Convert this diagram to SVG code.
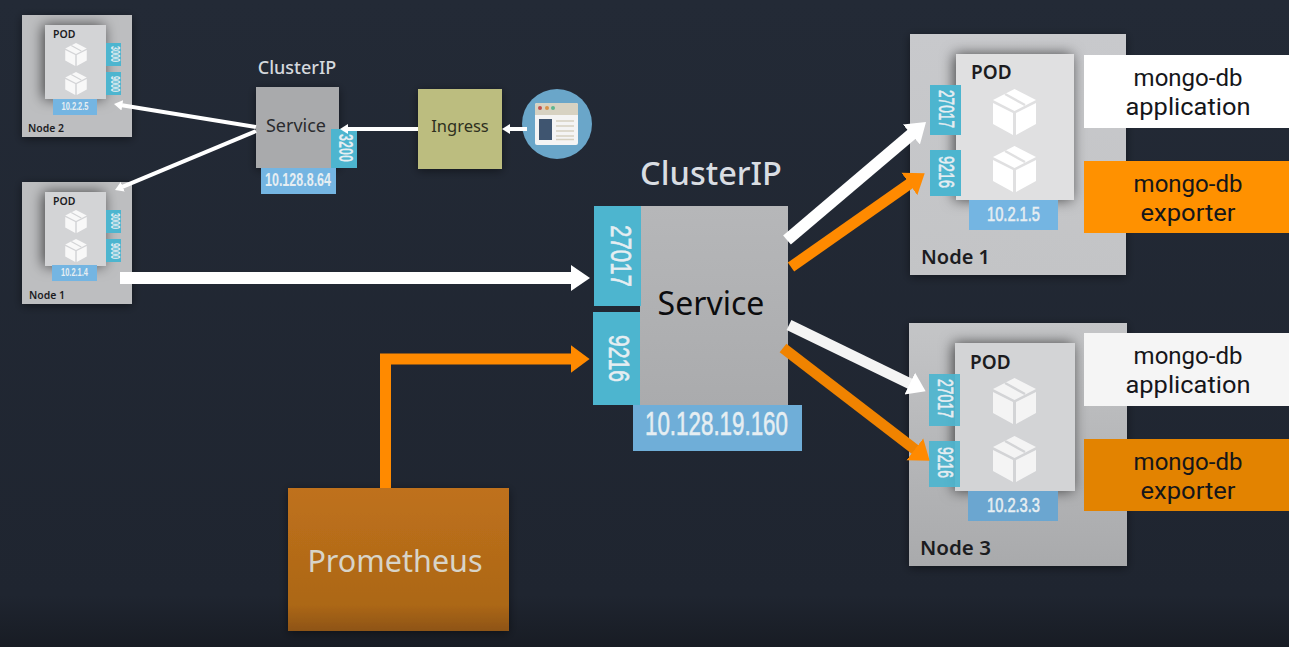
<svg xmlns="http://www.w3.org/2000/svg" width="1289" height="647" viewBox="0 0 1289 647">
<style>
text{font-family:"Noto Sans","Open Sans","Liberation Sans",sans-serif}
.num{font-family:"Liberation Sans",Arial,sans-serif;fill:#e6eef2;font-weight:700}
.big{font-weight:400;stroke:#e6eef2;stroke-width:.6px}
.port{fill:#4db5cf}
.ip{fill:#74b5e2}
.pod{fill:#d3d4d6}
.podb{fill:#e0e0e1}
.n{fill:#bdbec0}
.lab{font-weight:600;fill:#1c1c1f}
.c{text-anchor:middle}
.m{text-anchor:middle;font-size:24px;fill:#15161a;font-family:Roboto,"Liberation Sans",sans-serif}
.wire{fill:none;stroke:#fff}
</style>
<defs>
<linearGradient id="bg" x1="0" y1="0" x2="0" y2="1"><stop offset="0" stop-color="#232a36"/><stop offset=".92" stop-color="#1f2530"/><stop offset="1" stop-color="#181c24"/></linearGradient>
<linearGradient id="nb" x1="0" y1="0" x2="0" y2="1"><stop offset="0" stop-color="#c8c9cc"/><stop offset="1" stop-color="#c3c4c6"/></linearGradient>
<linearGradient id="nd" x1="0" y1="0" x2="0" y2="1"><stop offset="0" stop-color="#c4c5c7"/><stop offset="1" stop-color="#a9aaac"/></linearGradient>
<linearGradient id="pr" x1="0" y1="0" x2="0" y2="1"><stop offset="0" stop-color="#bf711c"/><stop offset=".82" stop-color="#ac6716"/><stop offset="1" stop-color="#8e5412"/></linearGradient>
<linearGradient id="sv" x1="0" y1="0" x2="0" y2="1"><stop offset="0" stop-color="#b6b7b9"/><stop offset="1" stop-color="#aaabad"/></linearGradient>
<filter id="sh" x="-30%" y="-30%" width="160%" height="160%"><feDropShadow dx="-2" dy="0" stdDeviation="7" flood-color="#000" flood-opacity=".65"/></filter>
<filter id="sh2" x="-20%" y="-20%" width="140%" height="140%"><feDropShadow dx="0" dy="2" stdDeviation="5" flood-color="#000" flood-opacity=".45"/></filter>
<marker id="hw" viewBox="-0.1 -1.2 1.7 2.4" markerWidth="1.7" markerHeight="2.4" refX="0" refY="0" orient="auto"><path d="M-.1-1.1L1.5 0L-.1 1.1Z" fill="#fff"/></marker>
<marker id="ho" viewBox="-0.1 -1.3 1.8 2.6" markerWidth="1.8" markerHeight="2.6" refX="0" refY="0" orient="auto"><path d="M-.1-1.25L1.6 0L-.1 1.25Z" fill="#ff8a00"/></marker>
<marker id="ht" viewBox="-0.1 -1.4 2.2 2.8" markerWidth="2.2" markerHeight="2.8" refX="0" refY="0" orient="auto"><path d="M-.1-1.3L2 0L-.1 1.3Z" fill="#fff"/></marker>
<symbol id="cube" viewBox="0 0 43 46" overflow="visible">
<path d="M21.5 0L43 11L21.5 22L0 11Z" fill="#fff"/>
<path d="M12 5L32 16" stroke="currentColor" stroke-width="2.4" fill="none"/>
<path d="M0 14L20 24V46L0 35Z M23 24L43 14V35L23 46Z" fill="#fff"/>
</symbol>
</defs>
<rect width="1289" height="647" fill="url(#bg)"/>

<g id="node-2-small">
<rect class="n" x="22" y="15" width="110" height="122" filter="url(#sh2)"/>
<rect class="pod" x="45" y="25" width="61" height="74" filter="url(#sh)"/>
<rect class="port" x="106" y="43" width="15" height="23"/><rect class="port" x="106" y="72" width="15" height="23"/>
<rect class="ip" x="53" y="99" width="44" height="16"/>
<use href="#cube" x="65" y="43" width="22" height="23" color="#d3d4d6" opacity=".85"/>
<use href="#cube" x="65" y="72" width="22" height="23" color="#d3d4d6" opacity=".85"/>
<text class="lab" x="53" y="38" font-size="10.500">POD</text>
<text class="num" transform="translate(111,54) rotate(90)" text-anchor="middle" font-size="12" textLength="16" lengthAdjust="spacingAndGlyphs">3000</text>
<text class="num" transform="translate(111,84) rotate(90)" text-anchor="middle" font-size="12" textLength="16" lengthAdjust="spacingAndGlyphs">9000</text>
<text class="num" x="75" y="110" text-anchor="middle" font-size="11" textLength="27" lengthAdjust="spacingAndGlyphs">10.2.2.5</text>
<text class="lab" x="28" y="132" font-size="11" textLength="36" lengthAdjust="spacingAndGlyphs">Node 2</text>
</g>

<g id="node-1-small">
<rect class="n" x="22" y="182" width="110" height="122" filter="url(#sh2)"/>
<rect class="pod" x="45" y="192" width="61" height="74" filter="url(#sh)"/>
<rect class="port" x="106" y="210" width="15" height="23"/><rect class="port" x="106" y="239" width="15" height="23"/>
<rect class="ip" x="52" y="265" width="45" height="16"/>
<use href="#cube" x="65" y="210" width="22" height="23" color="#d3d4d6" opacity=".85"/>
<use href="#cube" x="65" y="239" width="22" height="23" color="#d3d4d6" opacity=".85"/>
<text class="lab" x="53" y="205" font-size="10.500">POD</text>
<text class="num" transform="translate(111,221) rotate(90)" text-anchor="middle" font-size="12" textLength="16" lengthAdjust="spacingAndGlyphs">3000</text>
<text class="num" transform="translate(111,251) rotate(90)" text-anchor="middle" font-size="12" textLength="16" lengthAdjust="spacingAndGlyphs">9000</text>
<text class="num" x="74.500" y="276" text-anchor="middle" font-size="11" textLength="27" lengthAdjust="spacingAndGlyphs">10.2.1.4</text>
<text class="lab" x="29" y="299" font-size="11" textLength="36" lengthAdjust="spacingAndGlyphs">Node 1</text>
</g>

<g id="service-small">
<text class="c" x="297" y="74" font-size="18" font-weight="500" fill="#d5d9de">ClusterIP</text>
<rect x="256" y="87" width="83" height="81" fill="#a9aaac" filter="url(#sh2)"/>
<rect class="port" x="331" y="129" width="26" height="39"/>
<rect class="ip" x="261" y="168" width="75" height="26"/>
<text class="c" x="296" y="132" font-size="18" fill="#2a2b2e">Service</text>
<text class="num" transform="translate(339,148) rotate(90)" text-anchor="middle" font-size="20" textLength="28" lengthAdjust="spacingAndGlyphs">3200</text>
<text class="num" x="298" y="186" text-anchor="middle" font-size="19" textLength="66" lengthAdjust="spacingAndGlyphs">10.128.8.64</text>
</g>

<g id="ingress">
<rect x="418" y="89" width="84" height="80" fill="#bcbd7f" filter="url(#sh2)"/>
<text class="c" x="460" y="132" font-size="16.500" fill="#2e3020">Ingress</text>
</g>

<g id="browser">
<circle cx="557" cy="124" r="35" fill="#6aa6c9"/>
<rect x="535" y="103" width="43" height="42" rx="2" fill="#f4f4f4"/>
<path d="M535 115V105a2 2 0 0 1 2-2H576a2 2 0 0 1 2 2V115Z" fill="#d7d2c2"/>
<circle cx="540" cy="108" r="2" fill="#c2504f"/><circle cx="547" cy="108" r="2" fill="#d9924a"/><circle cx="553" cy="108" r="2" fill="#5fb58e"/>
<rect x="539" y="119" width="13" height="21" fill="#3f5570"/>
<path d="M556 121H574M556 126H574M556 131H574M556 136H574M556 139.500H574" stroke="#d5d0c0" stroke-width="1.500" fill="none"/>
</g>

<g id="service-main">
<text class="c" x="711" y="185" font-size="32.500" font-weight="500" fill="#d9dde2">ClusterIP</text>
<rect x="640" y="206" width="148" height="199" fill="url(#sv)"/>
<rect class="port" x="594" y="206" width="47" height="100"/>
<rect class="port" x="593" y="312" width="47" height="93"/>
<rect class="ip" x="633" y="405" width="169" height="46" fill-opacity=".95"/>
<text class="c" x="711" y="315" font-size="32" fill="#0c0c0e">Service</text>
<text class="num big" transform="translate(611,256) rotate(90)" text-anchor="middle" font-size="30" textLength="62" lengthAdjust="spacingAndGlyphs">27017</text>
<text class="num big" transform="translate(609,358.500) rotate(90)" text-anchor="middle" font-size="30" textLength="47" lengthAdjust="spacingAndGlyphs">9216</text>
<text class="num big" x="716.500" y="435" text-anchor="middle" font-size="33" textLength="143" lengthAdjust="spacingAndGlyphs">10.128.19.160</text>
</g>

<g id="node-1">
<rect x="910" y="34" width="216" height="241" fill="url(#nb)" filter="url(#sh2)"/>
<rect class="podb" x="956" y="54" width="118" height="146" filter="url(#sh)"/>
<rect class="port" x="930" y="85" width="31" height="50"/>
<rect class="port" x="930" y="150" width="31" height="46"/>
<rect class="ip" x="969" y="200" width="89" height="30"/>
<use href="#cube" x="993" y="89" width="43" height="46" color="#e0e0e1"/>
<use href="#cube" x="993" y="146" width="43" height="46" color="#e0e0e1"/>
<text class="lab" x="971" y="79" font-size="19">POD</text>
<text class="num big" transform="translate(939,109) rotate(90)" text-anchor="middle" font-size="22" textLength="38" lengthAdjust="spacingAndGlyphs">27017</text>
<text class="num big" transform="translate(939,172) rotate(90)" text-anchor="middle" font-size="22" textLength="32" lengthAdjust="spacingAndGlyphs">9216</text>
<text class="num big" x="1013.500" y="221" text-anchor="middle" font-size="21" textLength="53" lengthAdjust="spacingAndGlyphs">10.2.1.5</text>
<text class="lab" x="921" y="264" font-size="20" textLength="69" lengthAdjust="spacingAndGlyphs">Node 1</text>
</g>

<g id="node-3">
<rect x="909" y="323" width="218" height="243" fill="url(#nd)" filter="url(#sh2)"/>
<rect class="pod" x="955" y="343" width="120" height="148" filter="url(#sh)"/>
<rect class="port" x="929" y="374" width="31" height="52" fill-opacity=".92"/>
<rect class="port" x="929" y="441" width="31" height="46" fill-opacity=".92"/>
<rect class="ip" x="968" y="491" width="90" height="30" style="fill:#6ba6d0"/>
<use href="#cube" x="993" y="378" width="43" height="46" color="#d3d4d6" opacity=".75"/>
<use href="#cube" x="993" y="436" width="43" height="46" color="#d3d4d6" opacity=".75"/>
<text class="lab" x="970" y="369" font-size="19">POD</text>
<text class="num big" transform="translate(938,398.500) rotate(90)" text-anchor="middle" font-size="22" textLength="39" lengthAdjust="spacingAndGlyphs">27017</text>
<text class="num big" transform="translate(938,462.500) rotate(90)" text-anchor="middle" font-size="22" textLength="31" lengthAdjust="spacingAndGlyphs">9216</text>
<text class="num big" x="1013.500" y="512" text-anchor="middle" font-size="21" textLength="53" lengthAdjust="spacingAndGlyphs">10.2.3.3</text>
<text class="lab" x="920" y="555" font-size="20" textLength="71" lengthAdjust="spacingAndGlyphs">Node 3</text>
</g>

<g id="label-app-1">
<rect x="1084" y="55" width="205" height="73" fill="#fff"/>
<text class="m" x="1188" y="86">mongo-db</text><text class="m" x="1188" y="115" textLength="125" lengthAdjust="spacingAndGlyphs">application</text>
</g>
<g id="label-exporter-1">
<rect x="1084" y="161" width="205" height="72" fill="#ff9100"/>
<text class="m" x="1188" y="192">mongo-db</text><text class="m" x="1188" y="221" textLength="95" lengthAdjust="spacingAndGlyphs">exporter</text>
</g>
<g id="label-app-3">
<rect x="1084" y="333" width="205" height="73" fill="#f5f5f5"/>
<text class="m" x="1188" y="364">mongo-db</text><text class="m" x="1188" y="393" textLength="125" lengthAdjust="spacingAndGlyphs">application</text>
</g>
<g id="label-exporter-3">
<rect x="1084" y="439" width="205" height="72" fill="#e38300"/>
<text class="m" x="1188" y="470">mongo-db</text><text class="m" x="1188" y="499" textLength="95" lengthAdjust="spacingAndGlyphs">exporter</text>
</g>

<g id="prometheus">
<rect x="288" y="488" width="221" height="143" fill="url(#pr)" filter="url(#sh2)"/>
<text class="c" x="395" y="572" font-size="30.500" fill="#d8d4c8">Prometheus</text>
</g>

<g id="connectors">
<path class="wire" stroke-width="4" d="M256 127L121.900 105.300" marker-end="url(#ht)"/>
<path class="wire" stroke-width="4" d="M256 131L122.400 186.900" marker-end="url(#ht)"/>
<path class="wire" stroke-width="4" d="M418 129H348" marker-end="url(#ht)"/>
<path class="wire" stroke-width="4" d="M527 129H510" marker-end="url(#ht)"/>
<path class="wire" stroke-width="12" d="M120 278H572" marker-end="url(#hw)"/>
<path class="wire" stroke-width="12" d="M787 240L912.300 133.700" marker-end="url(#hw)"/>
<path class="wire" stroke-width="11" d="M789 325L910.800 384.100" marker-end="url(#hw)" style="stroke:#f4f4f4"/>
<path fill="none" stroke="#ff8a00" stroke-width="11" d="M385.500 488V359H572" marker-end="url(#ho)"/>
<path fill="none" stroke="#ff8a00" stroke-width="11" d="M791 267L910.300 183.300" marker-end="url(#ho)"/>
<path fill="none" stroke="#f08300" stroke-width="11" d="M783 348L915.700 450" marker-end="url(#ho)"/>
</g>
</svg>
